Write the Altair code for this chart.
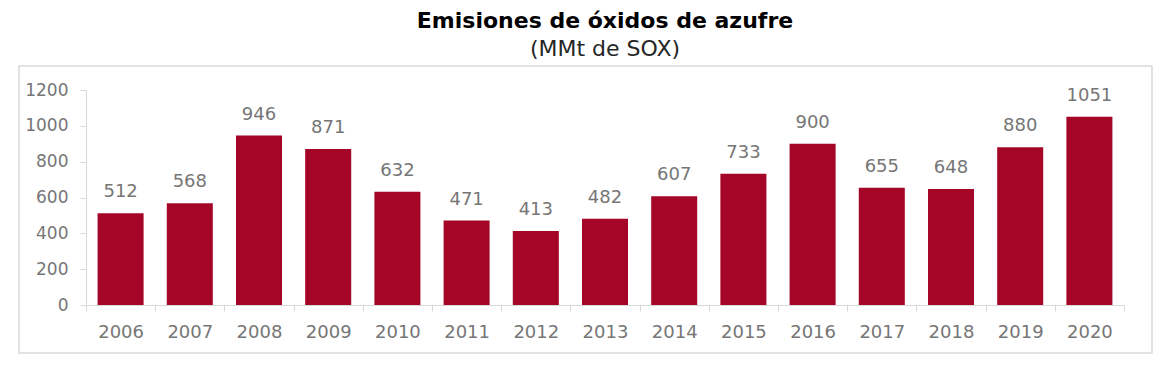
import altair as alt
import pandas as pd

years = ["2006", "2007", "2008", "2009", "2010", "2011", "2012", "2013",
         "2014", "2015", "2016", "2017", "2018", "2019", "2020"]
values = [512, 568, 946, 871, 632, 471, 413, 482, 607, 733, 900, 655, 648, 880, 1051]
y_ticks = [0, 200, 400, 600, 800, 1000, 1200]

FONT = "DejaVu Sans"
BAR = "#A50526"
GRAY = "#D9D9D9"
LABEL = "#767676"

df = pd.DataFrame({"year": years, "value": values})

W, H = 1038, 215

x = alt.X("year:N", sort=years, title=None,
          scale=alt.Scale(paddingInner=0, paddingOuter=0),
          axis=alt.Axis(labelAngle=0, tickBand="extent", domainColor=GRAY, tickColor=GRAY,
                        tickSize=6, labelPadding=12, labelFontSize=18, labelColor=LABEL,
                        labelFont=FONT, grid=False))
y = alt.Y("value:Q", title=None,
          scale=alt.Scale(domain=[0, 1200], nice=False),
          axis=alt.Axis(values=y_ticks, format="d", labelOverlap=False, labelFlush=False,
                        domainColor=GRAY, tickColor=GRAY, tickSize=6,
                        labelPadding=12, labelFontSize=17, labelColor=LABEL,
                        labelFont=FONT, grid=False))

bars = alt.Chart(df).mark_bar(color=BAR, width=alt.RelativeBandSize(0.665)).encode(x=x, y=y)
labels = alt.Chart(df).mark_text(baseline="alphabetic", dy=-16, fontSize=18,
                                 color=LABEL, font=FONT).encode(
    x=x, y=y, text="value:Q")

border = alt.Chart(pd.DataFrame({"b": [0]})).mark_rect(
    fill="transparent", stroke=GRAY, strokeWidth=1.5, clip=False).encode(
    x=alt.value(-67), x2=alt.value(1066), y=alt.value(-24), y2=alt.value(263))

chart = alt.layer(bars, labels, border).properties(
    width=W, height=H,
    padding={"left": 10, "top": 2, "right": 5, "bottom": 5},
    title=alt.Title(text="Emisiones de óxidos de azufre", subtitle="(MMt de SOX)",
                    font=FONT, fontSize=22, fontWeight="bold", color="#000000",
                    subtitleFont=FONT, subtitleFontSize=22, subtitleColor="#262626",
                    subtitlePadding=6, anchor="middle", offset=4),
).configure_view(stroke=None)

chart.save("out.html", embed_options={"renderer": "svg", "actions": False})
